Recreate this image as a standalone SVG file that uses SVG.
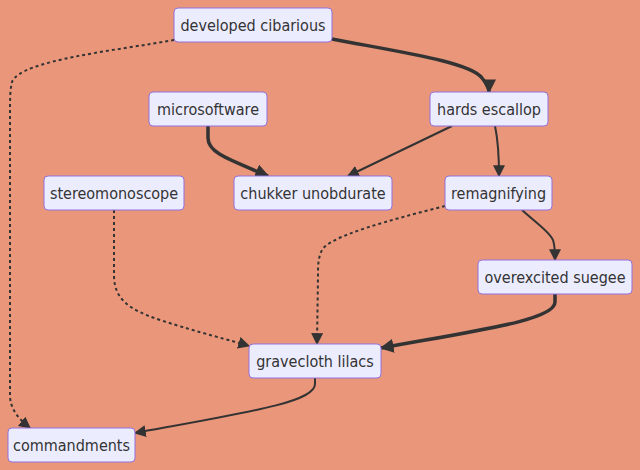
<svg xmlns="http://www.w3.org/2000/svg" width="640" height="470" viewBox="0 0 640 470">
<style>
.node rect{fill:#ECECFF;stroke:#9370DB;stroke-width:1}
.node text{font-family:"DejaVu Sans Condensed","DejaVu Sans",sans-serif;font-size:16px;fill:#333;text-anchor:middle;dominant-baseline:central}
.e{fill:none;stroke:#333;stroke-width:2}
.thick{stroke-width:3.5}
.dot{stroke-dasharray:3 3}
</style>
<defs>
<marker id="ah" viewBox="0 0 10 10" refX="9" refY="5" markerUnits="userSpaceOnUse" markerWidth="12" markerHeight="12" orient="auto">
<path d="M0,0 L10,5 L0,10 z" fill="#333"/>
</marker>
<marker id="ahb" viewBox="0 0 10 10" refX="9" refY="5" markerUnits="userSpaceOnUse" markerWidth="14" markerHeight="14" orient="auto">
<path d="M0,0 L10,5 L0,10 z" fill="#333"/>
</marker>
</defs>
<rect x="0" y="0" width="640" height="470" fill="#E9967A"/>
<g id="edges">
<path class="e thick" d="M332,39 C400,52 470,62 482,78 C487,84 489,88 489,92" marker-end="url(#ahb)"/>
<path class="e dot" d="M174,40 C120,50 20,60 12,82 C10,90 10,100 10,110 L10,395 C10,410 20,420 30,428" marker-end="url(#ah)"/>
<path class="e thick" d="M208,126 L208,138 C208,152 225,158 268,176" marker-end="url(#ahb)"/>
<path class="e" d="M452,126 L348,176" marker-end="url(#ah)"/>
<path class="e" d="M495,126 C498,140 499,155 499,176" marker-end="url(#ah)"/>
<path class="e" d="M522,210 C535,222 550,232 553,240 C555,246 555,252 555,260" marker-end="url(#ah)"/>
<path class="e dot" d="M445,206 C390,220 330,236 322,250 C318,258 318,266 318,275 L317,344" marker-end="url(#ah)"/>
<path class="e dot" d="M114,210 L114,275 C114,300 130,310 160,320 C200,333 230,340 249,346" marker-end="url(#ah)"/>
<path class="e thick" d="M555,294 L555,302 C555,320 480,330 381,348" marker-end="url(#ahb)"/>
<path class="e" d="M315,378 L315,384 C315,402 250,412 135,433" marker-end="url(#ah)"/>
</g>
<g id="developed-cibarious" class="node"><rect x="174" y="8" width="158" height="34" rx="4"/><text x="253" y="25">developed cibarious</text></g>
<g id="microsoftware" class="node"><rect x="149" y="92" width="118" height="34" rx="4"/><text x="208" y="109">microsoftware</text></g>
<g id="hards-escallop" class="node"><rect x="430" y="92" width="118" height="34" rx="4"/><text x="489" y="109">hards escallop</text></g>
<g id="stereomonoscope" class="node"><rect x="44" y="176" width="140" height="34" rx="4"/><text x="114" y="193">stereomonoscope</text></g>
<g id="chukker-unobdurate" class="node"><rect x="234" y="176" width="158" height="34" rx="4"/><text x="313" y="193">chukker unobdurate</text></g>
<g id="remagnifying" class="node"><rect x="445" y="176" width="107" height="34" rx="4"/><text x="498.5" y="193">remagnifying</text></g>
<g id="overexcited-suegee" class="node"><rect x="478" y="260" width="154" height="34" rx="4"/><text x="555" y="277">overexcited suegee</text></g>
<g id="gravecloth-lilacs" class="node"><rect x="249" y="344" width="132" height="34" rx="4"/><text x="315" y="361">gravecloth lilacs</text></g>
<g id="commandments" class="node"><rect x="8" y="428" width="127" height="34" rx="4"/><text x="71.5" y="445">commandments</text></g>
</svg>
